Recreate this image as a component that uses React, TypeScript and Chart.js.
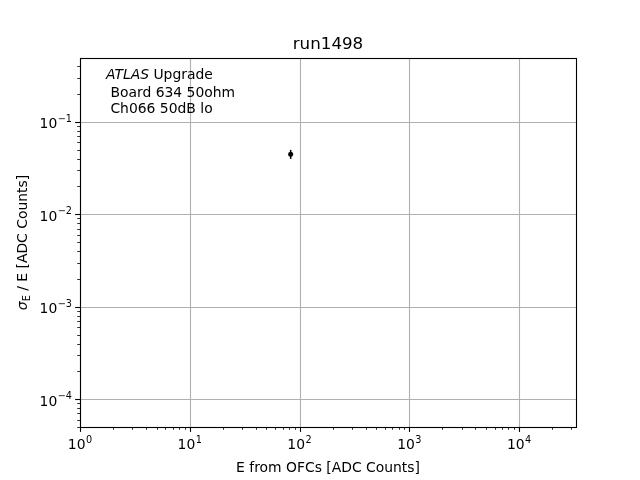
import React, { useEffect, useRef } from "react";
import { Chart, registerables } from "chart.js";

Chart.register(...registerables);

const titleText = "run1498";
const xAxisLabel = "E from OFCs [ADC Counts]";
const yAxisLabelRest = " / E [ADC Counts]";
const annotationLines = ["Upgrade", " Board 634 50ohm", " Ch066 50dB lo"];
const energies = [83];
const resolution = [0.0447];
const resolutionErr = [0.005];
const xMin = 1;
const xMax = 33000;
const yMin = 5.0e-5;
const yMax = 0.49;
const xMajorExps = [0, 1, 2, 3, 4];
const yMajorExps = [-4, -3, -2, -1];

const FONT = "'DejaVu Sans', sans-serif";

function drawPow(ctx: CanvasRenderingContext2D, exp: number, x: number, y: number, align: "center" | "right") {
  const base = "10";
  const sup = exp < 0 ? "\u2212" + Math.abs(exp) : String(exp);
  ctx.font = `13.9px ${FONT}`;
  const bw = ctx.measureText(base).width;
  ctx.font = `9.7px ${FONT}`;
  const sw = ctx.measureText(sup).width;
  const total = bw + sw + 0.5;
  let left = align === "center" ? x - total / 2 : x - total;
  ctx.fillStyle = "#000";
  ctx.textBaseline = "alphabetic";
  ctx.textAlign = "left";
  ctx.font = `13.9px ${FONT}`;
  ctx.fillText(base, left, y + 5);
  ctx.font = `9.7px ${FONT}`;
  ctx.fillText(sup, left + bw + 0.5, y - 1.5);
}

const customPlugin = {
  id: "mplStyle",
  beforeDatasetsDraw(chart: any) {
    const ctx = chart.ctx as CanvasRenderingContext2D;
    const { left, right, top, bottom } = chart.chartArea;
    const xs = chart.scales.x;
    const ys = chart.scales.y;
    ctx.save();
    ctx.strokeStyle = "#b0b0b0";
    ctx.lineWidth = 1.1;
    xMajorExps.forEach((e) => {
      const px = Math.round(xs.getPixelForValue(Math.pow(10, e))) + 0.5;
      ctx.beginPath();
      ctx.moveTo(px, top);
      ctx.lineTo(px, bottom);
      ctx.stroke();
    });
    yMajorExps.forEach((e) => {
      const py = Math.round(ys.getPixelForValue(Math.pow(10, e))) + 0.5;
      ctx.beginPath();
      ctx.moveTo(left, py);
      ctx.lineTo(right, py);
      ctx.stroke();
    });
    ctx.restore();
  },
  afterDatasetsDraw(chart: any) {
    const ctx = chart.ctx as CanvasRenderingContext2D;
    const xs = chart.scales.x;
    const ys = chart.scales.y;
    ctx.save();
    ctx.strokeStyle = "#000";
    ctx.lineWidth = 1.5;
    energies.forEach((e, i) => {
      const px = xs.getPixelForValue(e);
      const y1 = ys.getPixelForValue(resolution[i] + resolutionErr[i]);
      const y2 = ys.getPixelForValue(resolution[i] - resolutionErr[i]);
      ctx.beginPath();
      ctx.moveTo(px, y1);
      ctx.lineTo(px, y2);
      ctx.stroke();
    });
    ctx.restore();
  },
  afterDraw(chart: any) {
    const ctx = chart.ctx as CanvasRenderingContext2D;
    const { left, right, top, bottom } = chart.chartArea;
    const xs = chart.scales.x;
    const ys = chart.scales.y;
    ctx.save();
    ctx.strokeStyle = "#000";
    ctx.lineWidth = 1.1;
    ctx.strokeRect(Math.round(left) + 0.5, Math.round(top) + 0.5, Math.round(right - left), Math.round(bottom - top));
    for (let d = -1; d <= 5; d++) {
      for (let m = 1; m <= 9; m++) {
        const v = m * Math.pow(10, d);
        if (v < xMin * 0.999 || v > xMax) continue;
        const px = Math.round(xs.getPixelForValue(v)) + 0.5;
        const len = m === 1 ? 4.9 : 2.8;
        ctx.lineWidth = m === 1 ? 1.1 : 0.8;
        ctx.beginPath();
        ctx.moveTo(px, bottom);
        ctx.lineTo(px, bottom + len);
        ctx.stroke();
      }
    }
    for (let d = -6; d <= 0; d++) {
      for (let m = 1; m <= 9; m++) {
        const v = m * Math.pow(10, d);
        if (v < yMin || v > yMax) continue;
        const py = Math.round(ys.getPixelForValue(v)) + 0.5;
        const len = m === 1 ? 4.9 : 2.8;
        ctx.lineWidth = m === 1 ? 1.1 : 0.8;
        ctx.beginPath();
        ctx.moveTo(left, py);
        ctx.lineTo(left - len, py);
        ctx.stroke();
      }
    }
    xMajorExps.forEach((e) => {
      const px = xs.getPixelForValue(Math.pow(10, e));
      drawPow(ctx, e, px, bottom + 17, "center");
    });
    yMajorExps.forEach((e) => {
      const py = ys.getPixelForValue(Math.pow(10, e));
      drawPow(ctx, e, left - 8, py + 1.5, "right");
    });
    ctx.fillStyle = "#000";
    ctx.textAlign = "center";
    ctx.textBaseline = "alphabetic";
    ctx.font = `16.7px ${FONT}`;
    ctx.fillText(titleText, (left + right) / 2, 49);
    ctx.font = `13.9px ${FONT}`;
    ctx.fillText(xAxisLabel, (left + right) / 2, 472);
    ctx.save();
    ctx.translate(27, (top + bottom) / 2);
    ctx.rotate(-Math.PI / 2);
    ctx.font = `italic 13.9px ${FONT}`;
    const sigW = ctx.measureText("\u03c3").width;
    ctx.font = `9.7px ${FONT}`;
    const subW = ctx.measureText("E").width;
    ctx.font = `13.9px ${FONT}`;
    const restW = ctx.measureText(yAxisLabelRest).width;
    const tot = sigW + subW + restW;
    let lx = -tot / 2;
    ctx.textAlign = "left";
    ctx.font = `italic 13.9px ${FONT}`;
    ctx.fillText("\u03c3", lx, 0);
    lx += sigW;
    ctx.font = `9.7px ${FONT}`;
    ctx.fillText("E", lx, 3);
    lx += subW;
    ctx.font = `13.9px ${FONT}`;
    ctx.fillText(yAxisLabelRest, lx, 0);
    ctx.restore();
    ctx.textAlign = "left";
    ctx.font = `italic 13.9px ${FONT}`;
    ctx.fillText("ATLAS", 106, 79);
    const aw = ctx.measureText("ATLAS ").width;
    ctx.font = `13.9px ${FONT}`;
    ctx.fillText(annotationLines[0], 106 + aw, 79);
    ctx.fillText(annotationLines[1], 106, 97);
    ctx.fillText(annotationLines[2], 106, 113);
    ctx.restore();
  },
};

export default function App() {
  const ref = useRef<HTMLCanvasElement | null>(null);
  useEffect(() => {
    if (!ref.current) return;
    const chart = new Chart(ref.current, {
      type: "scatter",
      data: {
        datasets: [
          {
            data: energies.map((e, i) => ({ x: e, y: resolution[i] })),
            backgroundColor: "#000",
            borderColor: "#000",
            pointRadius: 2.5,
            pointBorderWidth: 0,
          },
        ],
      },
      options: {
        animation: false,
        responsive: false,
        maintainAspectRatio: false,
        layout: { padding: { top: 58, right: 64, left: 0, bottom: 0 } },
        plugins: { legend: { display: false }, title: { display: false }, tooltip: { enabled: false } },
        scales: {
          x: {
            type: "logarithmic",
            min: xMin,
            max: xMax,
            grid: { display: false },
            border: { display: false },
            ticks: { display: false },
            afterFit: (s: any) => {
              s.height = 53;
            },
          },
          y: {
            type: "logarithmic",
            min: yMin,
            max: yMax,
            grid: { display: false },
            border: { display: false },
            ticks: { display: false },
            afterFit: (s: any) => {
              s.width = 80;
            },
          },
        },
      },
      plugins: [customPlugin],
    });
    return () => chart.destroy();
  }, []);
  return (
    <div style={{ position: "absolute", left: 0, top: 0, width: 640, height: 480, background: "#fff" }}>
      <canvas ref={ref} width={640} height={480} style={{ width: 640, height: 480 }} />
    </div>
  );
}
